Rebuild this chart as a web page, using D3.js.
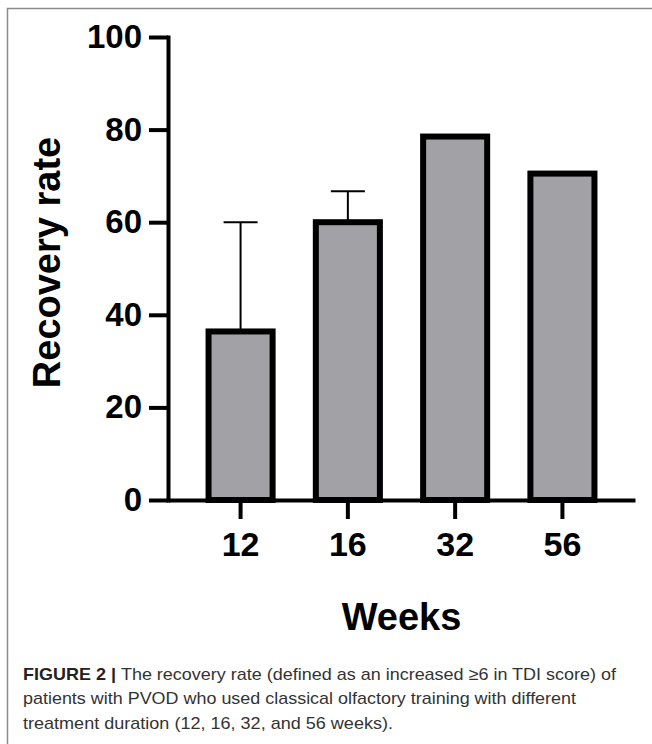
<!DOCTYPE html>
<html>
<head>
<meta charset="utf-8">
<script src="https://cdn.jsdelivr.net/npm/d3@7"></script>
<style>
  body { margin: 0; background: #fff; }
  svg { display: block; }
  .axis text { font-family: "Liberation Sans", Arial, sans-serif; font-weight: bold; fill: #000; }
</style>
</head>
<body>
<div id="chart"></div>
<script>
// data
const weeks = ['12', '16', '32', '56'];
const recovery = [36.4, 60, 78.5, 70.5];
const errUpper = [60, 66.7, null, null];
const yTicks = [0, 20, 40, 60, 80, 100];
const captionLines = [
  ['FIGURE 2 | ', 'The recovery rate (defined as an increased \u22656 in TDI score) of'],
  ['', 'patients with PVOD who used classical olfactory training with different'],
  ['', 'treatment duration (12, 16, 32, and 56 weeks).']
];

const W = 652, H = 744;
const plotL = 168, plotR = 635, plotT = 37, plotB = 500;

const svg = d3.select('#chart').append('svg')
  .attr('width', W)
  .attr('height', H);

// figure frame (only top and left edges visible)
svg.append('path')
  .attr('d', `M7.5,${H}V8.5H${W}`)
  .attr('fill', 'none')
  .attr('stroke', '#8a8a8a')
  .attr('stroke-width', 1.5);

const x = d3.scaleBand()
  .domain(weeks)
  .range([plotL, plotR])
  .paddingInner(0.347)
  .paddingOuter(0.35);

const y = d3.scaleLinear()
  .domain([0, 100])
  .range([plotB, plotT]);

const data = weeks.map((w, i) => ({w: w, v: recovery[i], e: errUpper[i]}));

// error bars (upper only), drawn behind bars
const err = svg.append('g');
data.filter(d => d.e != null).forEach(d => {
  const cx = x(d.w) + x.bandwidth() / 2;
  err.append('line')
    .attr('x1', cx).attr('x2', cx)
    .attr('y1', y(d.v)).attr('y2', y(d.e))
    .attr('stroke', '#000').attr('stroke-width', 2);
  err.append('line')
    .attr('x1', cx - 17).attr('x2', cx + 17)
    .attr('y1', y(d.e)).attr('y2', y(d.e))
    .attr('stroke', '#000').attr('stroke-width', 2);
});

// bars
const sw = 6;
svg.append('g')
  .selectAll('rect')
  .data(data)
  .join('rect')
  .attr('x', d => x(d.w) + sw / 2)
  .attr('width', x.bandwidth() - sw)
  .attr('y', d => y(d.v))
  .attr('height', d => y(0) - y(d.v))
  .attr('fill', '#a2a1a6')
  .attr('stroke', '#000')
  .attr('stroke-width', sw);

// y axis
const yAxis = svg.append('g')
  .attr('class', 'axis')
  .attr('transform', `translate(${plotL},0)`)
  .call(d3.axisLeft(y).tickValues(yTicks).tickSize(19).tickSizeOuter(0).tickPadding(7));
yAxis.select('.domain').attr('stroke', '#000').attr('stroke-width', 4).attr('stroke-linecap', 'square');
yAxis.selectAll('.tick line').attr('stroke', '#000').attr('stroke-width', 4);
yAxis.selectAll('.tick text').style('font-size', '33px');

// x axis
const xAxis = svg.append('g')
  .attr('class', 'axis')
  .attr('transform', `translate(0,${plotB})`)
  .call(d3.axisBottom(x).tickSize(19).tickSizeOuter(0).tickPadding(13));
xAxis.select('.domain').attr('stroke', '#000').attr('stroke-width', 4);
xAxis.selectAll('.tick line').attr('stroke', '#000').attr('stroke-width', 4);
xAxis.selectAll('.tick text').style('font-size', '34px');

// axis titles
svg.append('text')
  .attr('transform', `translate(60,${(plotT + plotB) / 2 - 6}) rotate(-90)`)
  .attr('text-anchor', 'middle')
  .style('font-family', '"Liberation Sans", Arial, sans-serif')
  .style('font-weight', 'bold')
  .style('font-size', '38px')
  .text('Recovery rate');

svg.append('text')
  .attr('x', (plotL + plotR) / 2)
  .attr('y', 630)
  .attr('text-anchor', 'middle')
  .style('font-family', '"Liberation Sans", Arial, sans-serif')
  .style('font-weight', 'bold')
  .style('font-size', '38px')
  .text('Weeks');

// caption
const capEnds = [616, 576, 393];
const capBase = [680, 704, 729];
captionLines.forEach((ln, i) => {
  const t = svg.append('text')
    .attr('x', 23)
    .attr('y', capBase[i])
    .attr('textLength', capEnds[i] - 23)
    .attr('lengthAdjust', 'spacingAndGlyphs')
    .style('font-family', '"Liberation Sans Narrow", "Liberation Sans", Arial, sans-serif')
    .style('font-size', '17px')
    .style('fill', '#333');
  if (ln[0]) t.append('tspan').style('font-weight', 'bold').style('fill', '#222').text(ln[0]);
  t.append('tspan').text(ln[1]);
});
</script>
</body>
</html>
